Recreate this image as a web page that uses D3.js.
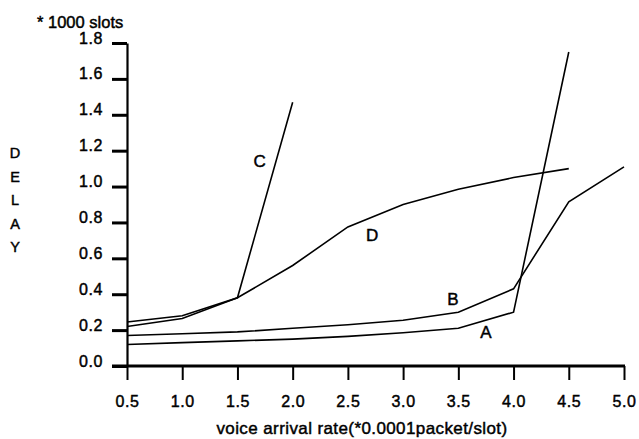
<!DOCTYPE html>
<html>
<head>
<meta charset="utf-8">
<script src="https://cdn.jsdelivr.net/npm/d3@7"></script>
<style>
  html, body { margin: 0; padding: 0; background: #fff; }
  svg text { font-family: "Liberation Sans", Arial, Helvetica, sans-serif; fill: #000; }
</style>
</head>
<body>
<svg id="chart" width="639" height="439"></svg>
<script>
// Voice arrival rate (x 0.0001 packet/slot)
const rates = [0.5, 1.0, 1.5, 2.0, 2.5, 3.0, 3.5, 4.0, 4.5, 5.0];

// Delay (x 1000 slots) per scheme
const delayA = [0.12, 0.13, 0.14, 0.15, 0.165, 0.185, 0.21, 0.30, 1.75];
const delayB = [0.17, 0.18, 0.19, 0.21, 0.23, 0.255, 0.30, 0.43, 0.915, 1.11];
const delayC = [0.245, 0.28, 0.38, 1.47];
const delayD = [0.22, 0.265, 0.38, 0.56, 0.775, 0.90, 0.985, 1.05, 1.10];

const seriesNames = ["A", "B", "C", "D"];
const seriesValues = [delayA, delayB, delayC, delayD];
// where each curve's letter sits: [rate, delay]
const labelAt = [[3.75, 0.18], [3.45, 0.365], [1.7, 1.135], [2.72, 0.72]];

const yTicks = [0.0, 0.2, 0.4, 0.6, 0.8, 1.0, 1.2, 1.4, 1.6, 1.8];
const xTicks = rates;

const svg = d3.select("#chart");

const x = d3.scaleLinear().domain([0.5, 5.0]).range([127, 624]);
const y = d3.scaleLinear().domain([0, 1.8]).range([366, 43]);

const boldish = sel => sel.style("stroke", "#000").style("stroke-width", 0.45);

// y axis
const yAxis = d3.axisLeft(y)
  .tickValues(yTicks)
  .tickFormat(d3.format(".1f"))
  .tickSize(15)
  .tickSizeOuter(0)
  .tickPadding(9);
const gy = svg.append("g").attr("transform", `translate(${x(0.5)},0)`).call(yAxis);
gy.select(".domain").attr("stroke", "#000").attr("stroke-width", 2.2);
gy.selectAll(".tick line").attr("stroke", "#000").attr("stroke-width", 3);
gy.selectAll(".tick text")
  .attr("dy", 0)
  .style("font-size", "16px")
  .style("letter-spacing", "0.6px")
  .call(boldish);

// x axis
const xAxis = d3.axisBottom(x)
  .tickValues(xTicks)
  .tickFormat(d3.format(".1f"))
  .tickSize(14)
  .tickSizeOuter(0)
  .tickPadding(16);
const gx = svg.append("g").attr("transform", `translate(0,${y(0)})`).call(xAxis);
gx.select(".domain").remove();
gx.selectAll(".tick line").attr("stroke", "#000").attr("stroke-width", 2);
gx.selectAll(".tick text")
  .attr("dy", "0.71em")
  .style("font-size", "16px")
  .style("letter-spacing", "0.6px")
  .call(boldish);
// baseline extends a little left of the y axis
svg.append("line")
  .attr("x1", x(0.5) - 15).attr("x2", x(5.0) + 1)
  .attr("y1", y(0)).attr("y2", y(0))
  .attr("stroke", "#000").attr("stroke-width", 3);

// curves
const line = d3.line().x(d => x(d[0])).y(d => y(d[1]));
seriesValues.forEach((vals) => {
  svg.append("path")
    .datum(vals.map((v, i) => [rates[i], v]))
    .attr("d", line)
    .attr("fill", "none")
    .attr("stroke", "#000")
    .attr("stroke-width", 1.6);
});

// curve letters
seriesNames.forEach((n, i) => {
  svg.append("text")
    .attr("x", x(labelAt[i][0])).attr("y", y(labelAt[i][1]))
    .attr("text-anchor", "middle")
    .attr("dominant-baseline", "middle")
    .style("font-size", "17px")
    .call(boldish)
    .text(n);
});

// unit note above the y axis
svg.append("text")
  .attr("x", 37).attr("y", 28)
  .style("font-size", "16.5px")
  .call(boldish)
  .text("* 1000 slots");

// vertical axis title
"DELAY".split("").forEach((c, i) => {
  svg.append("text")
    .attr("x", 15).attr("y", 158 + i * 23.5)
    .attr("text-anchor", "middle")
    .style("font-size", "14.5px")
    .call(boldish)
    .text(c);
});

// horizontal axis title
svg.append("text")
  .attr("x", 362).attr("y", 434)
  .attr("text-anchor", "middle")
  .style("font-size", "17px")
  .style("letter-spacing", "0.4px")
  .call(boldish)
  .text("voice arrival rate(*0.0001packet/slot)");
</script>
</body>
</html>
